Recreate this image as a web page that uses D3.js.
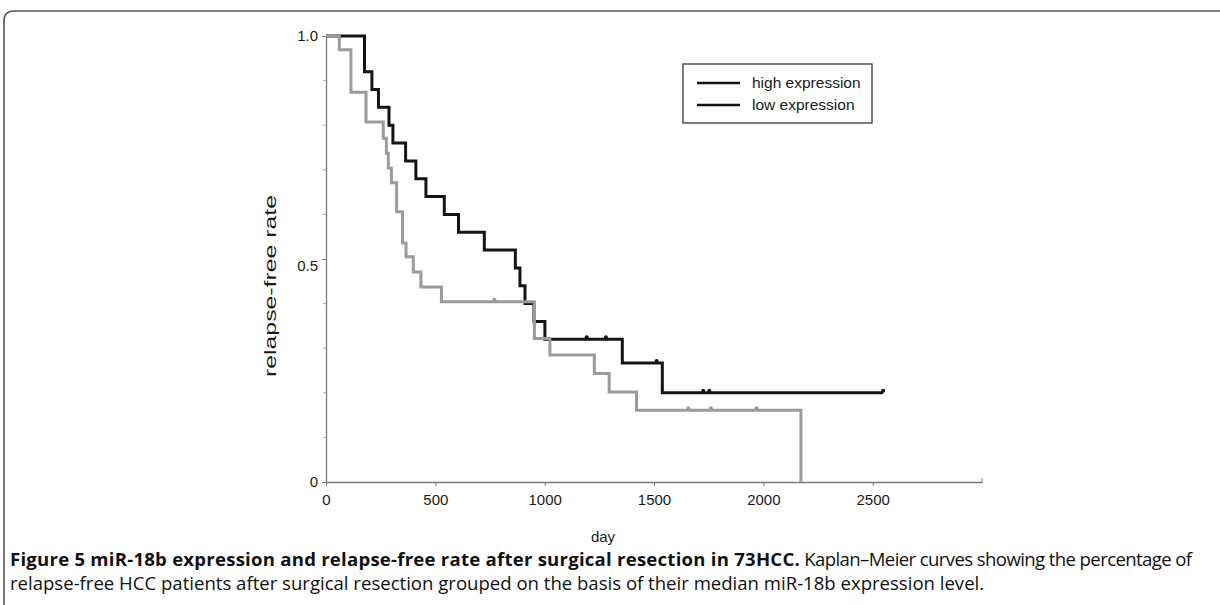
<!DOCTYPE html>
<html>
<head>
<meta charset="utf-8">
<script src="https://cdn.jsdelivr.net/npm/d3@7"></script>
<style>
  body { margin: 0; background: #fff; }
  svg { display: block; }
</style>
</head>
<body>
<svg id="chart" width="1220" height="605"></svg>
<script>
// high expression group (black): event days and rate after each step
const highDays = [0, 176, 210, 240, 288, 306, 364, 411, 457, 541, 606, 724, 866, 887, 910, 951, 1001, 1355, 1538];
const highRate = [1.0, 0.92, 0.88, 0.84, 0.80, 0.76, 0.72, 0.68, 0.64, 0.60, 0.56, 0.52, 0.48, 0.44, 0.40, 0.36, 0.32, 0.267, 0.20];
const highLastDay = 2548;
const highCensor = [1192, 1280, 1512, 1725, 1753, 2548];

// low expression group (gray)
const lowDays = [0, 61, 114, 183, 262, 276, 285, 299, 323, 350, 366, 399, 434, 528, 953, 1024, 1227, 1295, 1420, 2172];
const lowRate = [1.0, 0.969, 0.874, 0.807, 0.771, 0.737, 0.704, 0.671, 0.606, 0.536, 0.505, 0.471, 0.437, 0.404, 0.322, 0.285, 0.243, 0.202, 0.161, 0];
const lowLastDay = 2172;
const lowCensor = [770, 1657, 1760, 1969];

const xTicks = [0, 500, 1000, 1500, 2000, 2500];
const yTicks = [0, 0.5, 1.0];
const yMinor = [0.1, 0.2, 0.3, 0.4, 0.6, 0.7, 0.8, 0.9];
const legendLabels = ['high expression', 'low expression'];

const svg = d3.select('#chart');
const axisColor = '#7a7a7a';
const font = '"Liberation Sans", Arial, sans-serif';

const x = d3.scaleLinear().domain([0, 3000]).range([326, 982]);
const y = d3.scaleLinear().domain([0, 1]).range([482, 36]);

// frame of the figure
svg.append('path')
  .attr('d', 'M4,605 V21 Q4,11 14,11 H1220')
  .attr('fill', 'none')
  .attr('stroke', '#555')
  .attr('stroke-width', 1.6);

// x axis
const xAxis = svg.append('g')
  .attr('transform', `translate(0,${y(0)})`)
  .call(d3.axisBottom(x).tickValues(xTicks).tickSize(4).tickSizeOuter(0).tickFormat(d3.format('d')));
xAxis.select('.domain').attr('stroke', axisColor).attr('stroke-width', 1.3);
xAxis.selectAll('.tick line').attr('stroke', axisColor);
xAxis.selectAll('.tick text')
  .attr('fill', '#1a1a1a')
  .attr('font-family', font)
  .attr('font-size', 15)
  .attr('dy', '1.05em');
svg.append('line')
  .attr('x1', x(3000)).attr('x2', x(3000))
  .attr('y1', y(0)).attr('y2', y(0) - 4)
  .attr('stroke', axisColor);

// y axis
const yAxis = svg.append('g')
  .attr('transform', `translate(${x(0)},0)`)
  .call(d3.axisLeft(y).tickValues(yTicks).tickSize(4).tickSizeOuter(0)
    .tickFormat((d) => (d === 0 ? '0' : d3.format('.1f')(d))));
yAxis.select('.domain').attr('stroke', axisColor).attr('stroke-width', 1.3);
yAxis.selectAll('.tick line').attr('stroke', axisColor);
yAxis.selectAll('.tick text')
  .attr('fill', '#1a1a1a')
  .attr('font-family', font)
  .attr('font-size', 15)
  .attr('x', -8)
  .attr('dy', (d) => (d === 0.5 ? '0.75em' : '0.32em'));
svg.append('g')
  .selectAll('line')
  .data(yMinor)
  .join('line')
  .attr('x1', x(0) - 3).attr('x2', x(0))
  .attr('y1', (d) => y(d)).attr('y2', (d) => y(d))
  .attr('stroke', '#aaa');

// axis titles
svg.append('text')
  .attr('transform', 'translate(276,286) rotate(-90)')
  .attr('text-anchor', 'middle')
  .attr('font-family', font)
  .attr('font-size', 16)
  .attr('fill', '#1a1a1a')
  .attr('textLength', 182)
  .attr('lengthAdjust', 'spacingAndGlyphs')
  .text('relapse-free rate');

svg.append('text')
  .attr('x', 603)
  .attr('y', 542)
  .attr('text-anchor', 'middle')
  .attr('font-family', font)
  .attr('font-size', 15)
  .attr('fill', '#1a1a1a')
  .text('day');

// survival curves
const stepLine = d3.line()
  .x((d) => x(d[0]))
  .y((d) => y(d[1]))
  .curve(d3.curveStepAfter);

const toPoints = (days, rates, last) => {
  const pts = days.map((d, i) => [d, rates[i]]);
  pts.push([last, rates[rates.length - 1]]);
  return pts;
};
const rateAt = (days, rates, t) => {
  let r = rates[0];
  days.forEach((d, i) => { if (d <= t) r = rates[i]; });
  return r;
};

const groups = [
  { days: highDays, rates: highRate, last: highLastDay, censor: highCensor, color: '#141414' },
  { days: lowDays, rates: lowRate, last: lowLastDay, censor: lowCensor, color: '#9b9b9b' },
];

groups.forEach((g) => {
  svg.append('path')
    .datum(toPoints(g.days, g.rates, g.last))
    .attr('d', stepLine)
    .attr('fill', 'none')
    .attr('stroke', g.color)
    .attr('stroke-width', 3)
    .attr('stroke-linejoin', 'miter');

  svg.append('g')
    .selectAll('circle')
    .data(g.censor)
    .join('circle')
    .attr('cx', (d) => x(d))
    .attr('cy', (d) => y(rateAt(g.days, g.rates, d)) - 2)
    .attr('r', 2)
    .attr('fill', g.color);
});

// legend
const legend = svg.append('g');
legend.append('rect')
  .attr('x', 683).attr('y', 64)
  .attr('width', 189).attr('height', 59)
  .attr('fill', '#fff')
  .attr('stroke', '#444')
  .attr('stroke-width', 1.4);
legendLabels.forEach((label, i) => {
  const ly = 83 + i * 22;
  legend.append('line')
    .attr('x1', 697).attr('x2', 740)
    .attr('y1', ly).attr('y2', ly)
    .attr('stroke', '#111')
    .attr('stroke-width', 2.6);
  legend.append('text')
    .attr('x', 752).attr('y', ly + 5)
    .attr('font-family', font)
    .attr('font-size', 15.5)
    .attr('fill', '#1a1a1a')
    .text(label);
});

// caption
const capFont = '"Open Sans", Lato, sans-serif';
const cap1 = svg.append('text')
  .attr('x', 10).attr('y', 566)
  .attr('font-family', capFont)
  .attr('fill', '#111');
const capBold = cap1.append('tspan')
  .attr('font-weight', 'bold')
  .text('Figure 5 miR-18b expression and relapse-free rate after surgical resection in 73HCC.');
const capRest = cap1.append('tspan')
  .text(' Kaplan\u2013Meier curves showing the percentage of');
const cap2 = svg.append('text')
  .attr('x', 10).attr('y', 590)
  .attr('font-family', capFont)
  .attr('fill', '#111')
  .text('relapse-free HCC patients after surgical resection grouped on the basis of their median miR-18b expression level.');

// size the caption so the lines span about the same widths as in the figure
cap2.attr('font-size', 16);
const w2 = cap2.node().getComputedTextLength();
const capSize = 16 * 975 / w2;
cap2.attr('font-size', capSize);
cap1.attr('font-size', capSize);
const wBold = capBold.node().getComputedTextLength();
const wRest = capRest.node().getComputedTextLength();
capBold.attr('letter-spacing', (790 - wBold) / capBold.text().length);
capRest.attr('letter-spacing', Math.max(-0.6, (385 - wRest) / capRest.text().length));
</script>
</body>
</html>
